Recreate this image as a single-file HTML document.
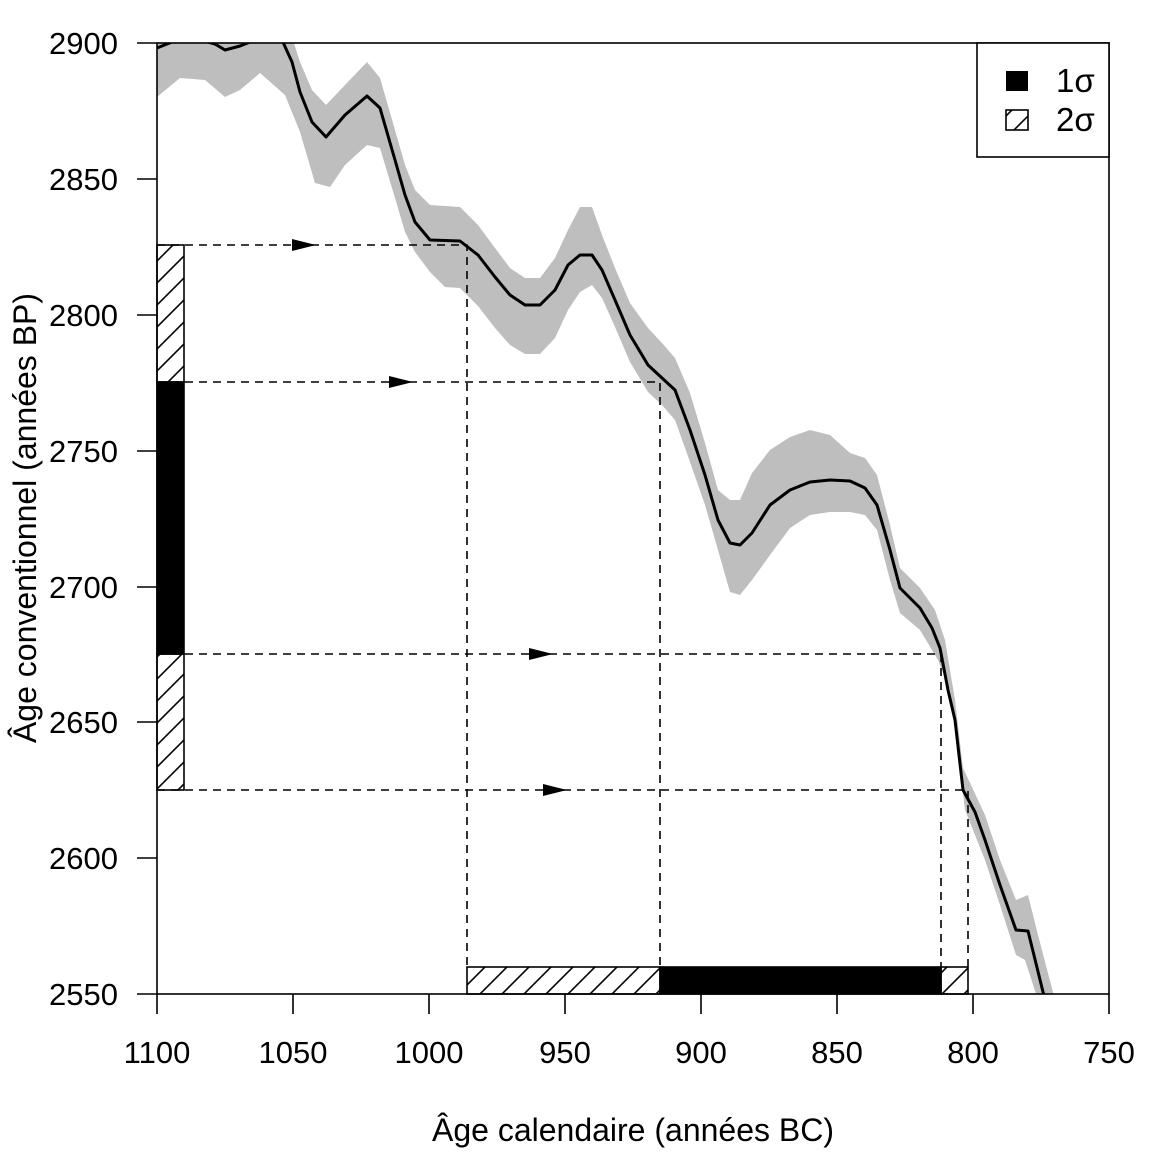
<!DOCTYPE html>
<html><head><meta charset="utf-8"><style>body{margin:0;background:#fff}svg{display:block}text{font-family:"Liberation Sans",sans-serif;font-size:31px;fill:#000}</style></head><body>
<svg width="1152" height="1152" viewBox="0 0 1152 1152">
<defs>
<clipPath id="c"><rect x="157" y="43" width="952" height="951"/></clipPath>
<pattern id="h" patternUnits="userSpaceOnUse" width="22" height="22"><path d="M-2,24 L24,-2 M-13,13 L13,-13 M9,35 L35,9" stroke="#000" stroke-width="1.6"/></pattern>
</defs>
<g clip-path="url(#c)">
<path fill="#bebebe" d="M157,20 L200,15 L282,15 L292,37 L300,62 L312,90 L326,105 L345,85 L367,62 L380,78 L395,130 L405,165 L415,190 L430,205 L460,207 L478,225 L495,248 L510,268 L525,278 L540,278 L555,258 L568,230 L580,207 L592,207 L602,235 L615,268 L630,303 L648,328 L662,343 L675,358 L690,393 L705,443 L718,490 L730,500 L740,500 L752,473 L770,450 L790,437 L810,430 L830,435 L850,453 L865,458 L877,475 L890,525 L900,568 L920,588 L935,610 L945,640 L955,700 L963,768 L985,815 L1000,860 L1016,900 L1028,895 L1038,935 L1055,1000 L1038,1000 L1025,960 L1016,955 L1000,905 L985,860 L965,810 L958,750 L950,690 L938,660 L920,630 L900,613 L890,580 L877,530 L865,515 L850,512 L830,512 L810,515 L790,528 L770,555 L752,580 L740,595 L730,592 L718,550 L705,505 L690,462 L675,420 L662,405 L648,392 L630,362 L615,327 L602,298 L592,285 L580,292 L568,310 L555,338 L540,354 L525,354 L510,345 L495,328 L478,306 L460,288 L445,287 L430,272 L415,252 L405,232 L395,198 L380,148 L367,145 L345,165 L330,187 L315,183 L300,132 L285,95 L260,73 L240,90 L225,97 L205,80 L180,78 L157,97 Z"/>
<path d="M157,48 L172,42 L200,40 L215,44 L225,50 L240,46 L255,40 L282,40 L292,62 L300,92 L312,122 L326,137 L345,115 L367,96 L380,108 L395,160 L405,195 L415,222 L430,240 L460,241 L478,255 L495,277 L510,295 L525,305 L540,305 L555,290 L568,265 L580,255 L592,255 L602,270 L615,300 L630,335 L648,365 L662,378 L675,390 L690,430 L705,475 L718,520 L730,543 L740,545 L752,533 L770,505 L790,490 L810,482 L830,480 L850,481 L865,488 L877,505 L890,550 L900,588 L920,608 L932,628 L940,648 L948,690 L955,720 L963,790 L975,812 L985,840 L1000,885 L1016,930 L1028,931 L1045,1000" fill="none" stroke="#000" stroke-width="3" stroke-linejoin="round"/>
</g>
<g stroke="#000" stroke-width="1.6" stroke-dasharray="8,6" fill="none">
<path d="M157,245H467V968 M157,382H660V968 M157,654H941V968 M157,790H968V968"/>
</g>
<g fill="#000"><path d="M292,239 L316,245 L292,251Z M389,376 L413,382 L389,388Z M529,648 L553,654 L529,660Z M543,784 L567,790 L543,796Z"/></g>
<g stroke="#000" stroke-width="1.6">
<rect x="157" y="245" width="27" height="137" fill="url(#h)"/>
<rect x="157" y="654" width="27" height="136" fill="url(#h)"/>
<rect x="157" y="382" width="27" height="272" fill="#000"/>
<rect x="467" y="967" width="193" height="27" fill="url(#h)"/>
<rect x="941" y="967" width="27" height="27" fill="url(#h)"/>
<rect x="660" y="967" width="281" height="27" fill="#000"/>
</g>
<rect x="157" y="43" width="952" height="951" fill="none" stroke="#000" stroke-width="1.6"/>
<g stroke="#000" stroke-width="1.6">
<path d="M157,994v20 M293,994v20 M429,994v20 M565,994v20 M701,994v20 M837,994v20 M973,994v20 M1109,994v20"/>
<path d="M157,43h-20 M157,179h-20 M157,315h-20 M157,451h-20 M157,587h-20 M157,722h-20 M157,858h-20 M157,994h-20"/>
</g>
<g text-anchor="middle">
<text x="157" y="1063">1100</text><text x="293" y="1063">1050</text><text x="429" y="1063">1000</text><text x="565" y="1063">950</text><text x="701" y="1063">900</text><text x="837" y="1063">850</text><text x="973" y="1063">800</text><text x="1109" y="1063">750</text>
<text x="633" y="1141" style="font-size:32px">Âge calendaire (années BC)</text>
<text transform="translate(36,518) rotate(-90)" style="font-size:32px">Âge conventionnel (années BP)</text>
</g>
<g text-anchor="end">
<text x="118" y="54">2900</text><text x="118" y="190">2850</text><text x="118" y="326">2800</text><text x="118" y="462">2750</text><text x="118" y="598">2700</text><text x="118" y="733">2650</text><text x="118" y="869">2600</text><text x="118" y="1005">2550</text>
</g>
<rect x="977" y="43" width="132" height="114" fill="#fff" stroke="#000" stroke-width="1.6"/>
<rect x="1006" y="71" width="22" height="20" fill="#000"/>
<rect x="1006" y="110" width="22" height="20" fill="url(#h)" stroke="#000" stroke-width="1.6"/>
<text x="1056" y="92" style="font-size:33px">1σ</text>
<text x="1056" y="131" style="font-size:33px">2σ</text>
</svg>
</body></html>
